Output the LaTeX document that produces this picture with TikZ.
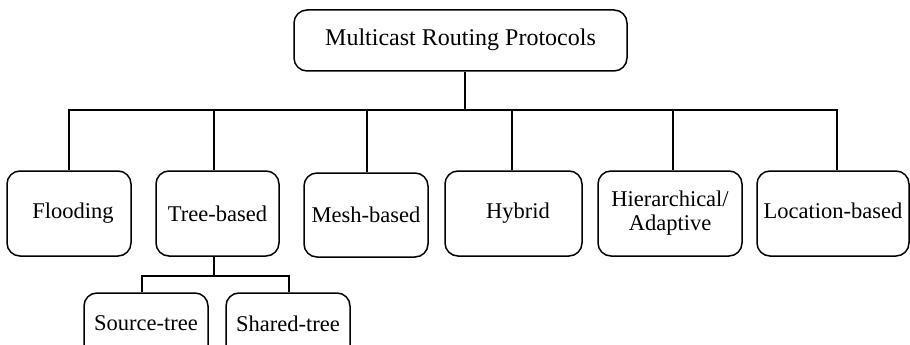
\documentclass[tikz,border=0pt]{standalone}
\usepackage{fontspec}
\setmainfont{Liberation Serif}
\begin{document}
\begin{tikzpicture}[x=1pt,y=-1pt,
  box/.style={draw, line width=1.5pt, rounded corners=13pt, inner sep=0pt, align=center,
    font=\fontsize{22.5}{24}\selectfont},
  conn/.style={line width=1.5pt}]
\useasboundingbox (0,0) rectangle (910,345);
\clip (0,0) rectangle (910,345);
\node[box, minimum width=333pt, minimum height=61pt, font=\fontsize{24}{26}\selectfont] (root) at (460.5,40.5) {\raisebox{6pt}{Multicast Routing Protocols}};
\node[box, minimum width=124pt, minimum height=85pt] (flood) at (69,213.5) {\hspace*{8pt}Flooding};
\node[box, minimum width=123pt, minimum height=85pt] (tree) at (217.5,213.5) {Tree-based};
\node[box, minimum width=124pt, minimum height=84pt] (mesh) at (366,215) {Mesh-based};
\node[box, minimum width=137pt, minimum height=85pt] (hyb) at (513.5,213.5) {\hspace*{9pt}\raisebox{2pt}{Hybrid}};
\node[box, minimum width=144pt, minimum height=85pt] (hier) at (670,213.5) {Hierarchical/\\Adaptive};
\node[box, minimum width=152pt, minimum height=85pt] (loc) at (833,213.5) {\raisebox{6pt}{Location-based}};
\node[box, minimum width=124pt, minimum height=70pt] (src) at (146,328) {\raisebox{10pt}{Source-tree}};
\node[box, minimum width=124pt, minimum height=70pt] (shr) at (288,328) {\raisebox{8pt}{Shared-tree}};
% main bus
\coordinate (bus) at (465,110);
\draw[conn] (root.south -| bus) -- (bus);
\draw[conn] (flood.north -| 69,0) |- (bus);
\draw[conn] (loc.north -| 837,0) |- (bus);
\draw[conn] (tree.north -| 214,0) -- (214,110);
\draw[conn] (mesh.north -| 367,0) -- (367,110);
\draw[conn] (hyb.north -| 512,0) -- (512,110);
\draw[conn] (hier.north -| 673,0) -- (673,110);
% sub bus
\coordinate (sbus) at (214,276);
\draw[conn] (tree.south -| sbus) -- (sbus);
\draw[conn] (src.north -| 142,0) |- (sbus);
\draw[conn] (shr.north -| 289,0) |- (sbus);
\end{tikzpicture}
\end{document}
